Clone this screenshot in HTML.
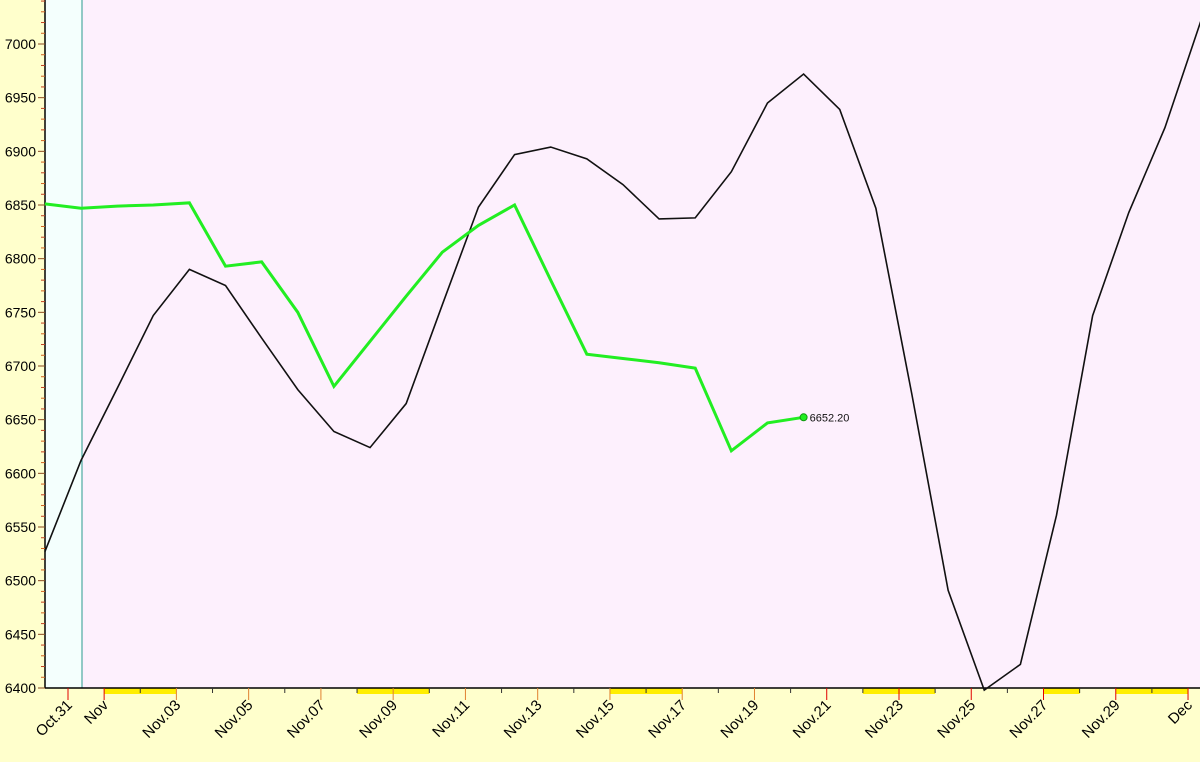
<!DOCTYPE html>
<html><head><meta charset="utf-8"><style>
html,body{margin:0;padding:0;background:#ffffcc;}
svg{display:block;font-family:"Liberation Sans",sans-serif;}
</style></head><body>
<svg id="c" width="1200" height="762"></svg>
<script>
const blackVals=[6527,6612,6679,6747,6790,6775,6726,6678,6639,6624,6665,6757,6848,6897,6904,6893,6869,6837,6838,6881,6945,6972,6939,6847,6673,6491,6398,6422,6561,6747,6843,6922,7022];
const greenVals=[6851,6847,6849,6850,6852,6793,6797,6750,6681,6723,6765,6806,6831,6850,6780,6711,6707,6703,6698,6621,6647,6652.2];
const yTicks=[6400,6450,6500,6550,6600,6650,6700,6750,6800,6850,6900,6950,7000];
const xLabels=["Oct.31","Nov","Nov.03","Nov.05","Nov.07","Nov.09","Nov.11","Nov.13","Nov.15","Nov.17","Nov.19","Nov.21","Nov.23","Nov.25","Nov.27","Nov.29","Dec"];
const xLabelDays=[0,1,3,5,7,9,11,13,15,17,19,21,23,25,27,29,31];
const yellowRanges=[[1,3],[8,10],[15,17],[22,24],[27,28],[29,31]];
const lastLabel="6652.20";
const NS="http://www.w3.org/2000/svg";
const svg=document.getElementById('c');
const L=45,R=1200,T=0,B=688;
const y=v=>44+(7000-v)*644/600;
const xd=d=>68+d*36.13;
const xi=i=>xd(-0.64+i);
function mk(t,a,p){const e=document.createElementNS(NS,t);for(const k in a)e.setAttribute(k,a[k]);(p||svg).appendChild(e);return e;}
let e;
e=mk('rect',{x:L,y:T,width:R-L,height:B-T,fill:'#fdf0fd'});


e=mk('rect',{x:L,y:T,width:82-L,height:B-T,fill:'#f4fffd'});


e=mk('line',{x1:82,y1:0,x2:82,y2:B,stroke:'#2a9a90','stroke-width':1});


yellowRanges.forEach(r=>{
 e=mk('rect',{x:xd(r[0]),y:B,width:xd(r[1])-xd(r[0]),height:6,fill:'#ffee00'});
 
 
});
e=mk('line',{x1:L,y1:0,x2:L,y2:B,stroke:'#000','stroke-width':1.5});


for(let v=6400;v<=7060;v+=10){
 const major=v%50===0;
 e=mk('line',{x1:major?L-7:L-4,y1:y(v),x2:L,y2:y(v),stroke:major?'#8a4a20':(v%20===0?'#c04020':'#d06020'),'stroke-width':1});
 
 
}
yTicks.forEach(v=>{
 e=mk('text',{x:L-9,y:y(v)+5,'text-anchor':'end','font-size':14,fill:'#000'});e.textContent=v;
 
 
});
e=mk('line',{x1:L,y1:B,x2:R,y2:B,stroke:'#000','stroke-width':1.5});


for(let d=0;d<=31;d++){
 const lab=xLabelDays.indexOf(d)>=0;
 const col=d<=1||d>=21&&lab?'#e00000':(lab?'#e08030':'#333');
 e=mk('line',{x1:xd(d),y1:B,x2:xd(d),y2:B+(lab?12:5),stroke:col,'stroke-width':1});
 
 
}
xLabels.forEach((t,i)=>{
 const cx=xd(xLabelDays[i])+5,cy=B+18;
 e=mk('text',{x:cx,y:cy,'text-anchor':'end','font-size':15,fill:'#000',transform:`rotate(-45 ${cx} ${cy})`});e.textContent=t;
 
 
});
e=mk('polyline',{points:blackVals.map((v,i)=>xi(i)+','+y(v)).join(' '),fill:'none',stroke:'#111','stroke-width':1.6});


e=mk('polyline',{points:greenVals.map((v,i)=>xi(i)+','+y(v)).join(' '),fill:'none',stroke:'#22ee22','stroke-width':3});


const li=greenVals.length-1;
e=mk('circle',{cx:xi(li),cy:y(greenVals[li]),r:3.5,fill:'#22ee22',stroke:'#119911','stroke-width':1});


e=mk('text',{x:xi(li)+6,y:y(greenVals[li])+4,'font-size':11,fill:'#111'});e.textContent=lastLabel;


</script>
</body></html>
